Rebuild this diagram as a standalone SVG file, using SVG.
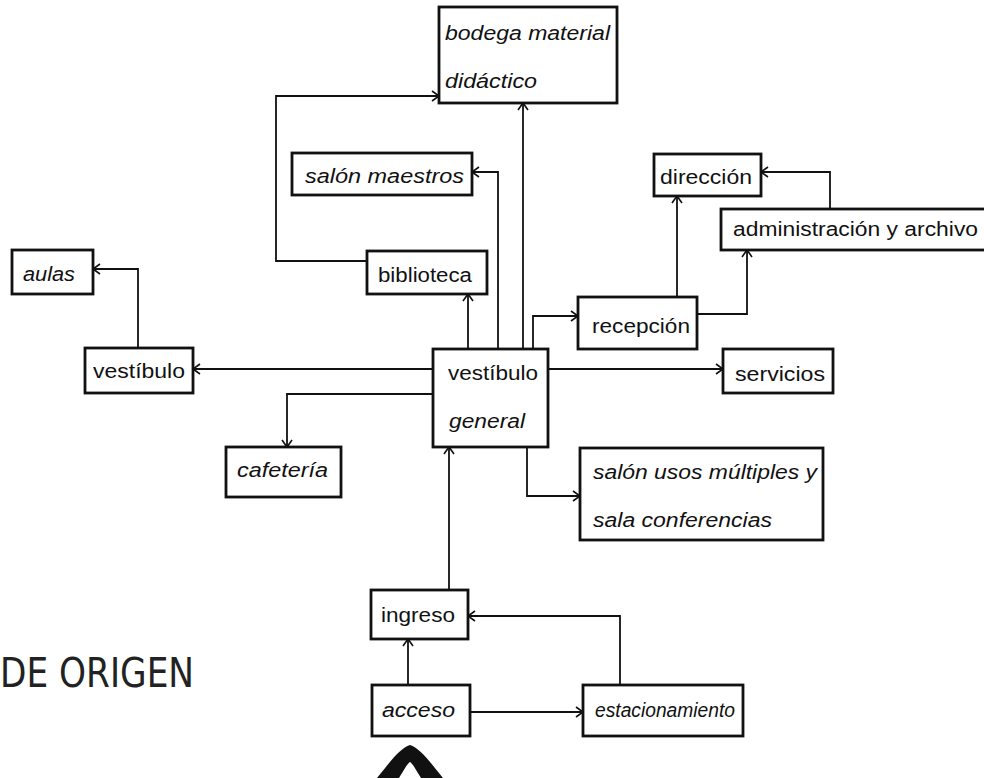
<svg xmlns="http://www.w3.org/2000/svg" width="984" height="778" viewBox="0 0 984 778">
<style>
.box{fill:#fff;stroke:#111;stroke-width:2.8}
.lbl{font-family:"Liberation Sans",Arial,sans-serif;font-style:italic;font-size:20px;fill:#111}
.up{font-style:normal}
.con{fill:none;stroke:#111;stroke-width:1.8}
.title{font-family:"DejaVu Sans Condensed","Liberation Sans Narrow","Liberation Sans",sans-serif;font-size:40px;fill:#222}
</style>
<defs>
<marker id="arr" viewBox="-8 -6 10 12" refX="0" refY="0" markerWidth="10" markerHeight="12" markerUnits="userSpaceOnUse" orient="auto">
<path d="M-7,-5 L0,0 L-7,5" fill="none" stroke="#111" stroke-width="1.6"/>
</marker>
</defs>
<rect width="984" height="778" fill="#fff"/>

<g id="connectors">
<path class="con" marker-end="url(#arr)" d="M367,261 H276 V96 H439"/>
<path class="con" marker-end="url(#arr)" d="M523,349 V103"/>
<path class="con" marker-end="url(#arr)" d="M498,349 V172 H472"/>
<path class="con" marker-end="url(#arr)" d="M468,349 V294"/>
<path class="con" marker-end="url(#arr)" d="M533,349 V316 H578"/>
<path class="con" marker-end="url(#arr)" d="M677,297 V196"/>
<path class="con" marker-end="url(#arr)" d="M697,314 H747 V250"/>
<path class="con" marker-end="url(#arr)" d="M830,209 V172 H761"/>
<path class="con" marker-end="url(#arr)" d="M548,369 H723"/>
<path class="con" marker-end="url(#arr)" d="M433,369 H193"/>
<path class="con" marker-end="url(#arr)" d="M138,348 V269 H93"/>
<path class="con" marker-end="url(#arr)" d="M433,394 H287 V447"/>
<path class="con" marker-end="url(#arr)" d="M527,447 V496 H580"/>
<path class="con" marker-end="url(#arr)" d="M449,590 V447"/>
<path class="con" marker-end="url(#arr)" d="M408,685 V639"/>
<path class="con" marker-end="url(#arr)" d="M470,712 H583"/>
<path class="con" marker-end="url(#arr)" d="M620,685 V616 H468"/>
</g>

<g id="bodega">
<rect class="box" x="439" y="7" width="178" height="96"/>
<text class="lbl" x="445" y="40" textLength="165" lengthAdjust="spacingAndGlyphs">bodega material</text>
<text class="lbl" x="445" y="88" textLength="92" lengthAdjust="spacingAndGlyphs">didáctico</text>
</g>
<g id="salon-maestros">
<rect class="box" x="292" y="153" width="180" height="42"/>
<text class="lbl" x="305" y="183" textLength="159" lengthAdjust="spacingAndGlyphs">salón maestros</text>
</g>
<g id="biblioteca">
<rect class="box" x="367" y="251" width="120" height="43"/>
<text class="lbl up" x="378" y="282" textLength="94" lengthAdjust="spacingAndGlyphs">biblioteca</text>
</g>
<g id="direccion">
<rect class="box" x="654" y="154" width="107" height="42"/>
<text class="lbl up" x="660" y="184" textLength="92" lengthAdjust="spacingAndGlyphs">dirección</text>
</g>
<g id="administracion">
<rect class="box" x="721" y="209" width="270" height="41"/>
<text class="lbl up" x="733" y="236" textLength="245" lengthAdjust="spacingAndGlyphs">administración y archivo</text>
</g>
<g id="aulas">
<rect class="box" x="12" y="250" width="81" height="44"/>
<text class="lbl" x="23" y="281" textLength="52" lengthAdjust="spacingAndGlyphs">aulas</text>
</g>
<g id="vestibulo">
<rect class="box" x="85" y="348" width="108" height="45"/>
<text class="lbl up" x="93" y="378" textLength="92" lengthAdjust="spacingAndGlyphs">vestíbulo</text>
</g>
<g id="recepcion">
<rect class="box" x="578" y="297" width="119" height="52"/>
<text class="lbl up" x="592" y="333" textLength="98" lengthAdjust="spacingAndGlyphs">recepción</text>
</g>
<g id="vestibulo-general">
<rect class="box" x="433" y="349" width="115" height="98"/>
<text class="lbl up" x="448" y="380" textLength="90" lengthAdjust="spacingAndGlyphs">vestíbulo</text>
<text class="lbl" x="449" y="428" textLength="76" lengthAdjust="spacingAndGlyphs">general</text>
</g>
<g id="servicios">
<rect class="box" x="723" y="349" width="110" height="44"/>
<text class="lbl up" x="735" y="381" textLength="90" lengthAdjust="spacingAndGlyphs">servicios</text>
</g>
<g id="cafeteria">
<rect class="box" x="226" y="447" width="115" height="50"/>
<text class="lbl" x="237" y="477" textLength="91" lengthAdjust="spacingAndGlyphs">cafetería</text>
</g>
<g id="salon-usos">
<rect class="box" x="580" y="448" width="243" height="92"/>
<text class="lbl" x="593" y="479" textLength="224" lengthAdjust="spacingAndGlyphs">salón usos múltiples y</text>
<text class="lbl" x="593" y="527" textLength="179" lengthAdjust="spacingAndGlyphs">sala conferencias</text>
</g>
<g id="ingreso">
<rect class="box" x="371" y="590" width="97" height="49"/>
<text class="lbl up" x="381" y="622" textLength="74" lengthAdjust="spacingAndGlyphs">ingreso</text>
</g>
<g id="acceso">
<rect class="box" x="372" y="685" width="98" height="51"/>
<text class="lbl" x="382" y="717" textLength="73" lengthAdjust="spacingAndGlyphs">acceso</text>
</g>
<g id="estacionamiento">
<rect class="box" x="583" y="685" width="160" height="51"/>
<text class="lbl" x="595" y="717" textLength="140" lengthAdjust="spacingAndGlyphs">estacionamiento</text>
</g>

<text class="title" x="0" y="687" textLength="194" lengthAdjust="spacingAndGlyphs">DE ORIGEN</text>
<path d="M377,778 C390,762 400,748 410,745 C420,748 430,762 443,778 L421,778 C416,770 413,764 410,762 C407,764 404,770 399,778 Z" fill="#111"/>
</svg>
